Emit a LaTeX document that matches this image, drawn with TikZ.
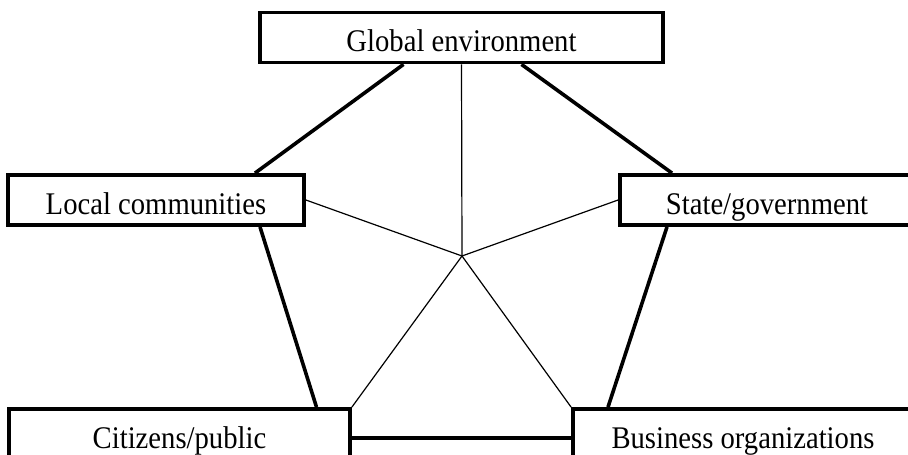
\documentclass[tikz,border=0pt]{standalone}
\usepackage{fontspec}
\setmainfont{Liberation Serif}[FakeStretch=0.91]

\begin{document}
\begin{tikzpicture}[x=1pt,y=-1pt,
  actor/.style={draw,line width=3.8pt,inner sep=0pt,text height=39pt,text depth=11pt,
    font=\fontsize{31.5}{36}\selectfont},
  tie/.style={line width=3.6pt},
  spoke/.style={line width=1.2pt}]
\useasboundingbox (0,0) rectangle (908,455);
\node[actor,minimum width=403pt,minimum height=49pt] (global) at (461.5,37.5) {Global environment}; %top
\node[actor,minimum width=296pt] (local) at (156,200) {Local communities}; %left
\node[actor,minimum width=294pt] (state) at (767,200) {State/government}; %right
\node[actor,minimum width=341pt] (citizens) at (179.5,434) {Citizens/public}; %bottom left
\node[actor,minimum width=340pt] (business) at (743,434) {Business organizations}; %bottom right
\coordinate (hub) at (462,256); %centre
\draw[tie] ([xshift=-58pt]global.south) -- ([xshift=99pt]local.north); %outer ring
\draw[tie] ([xshift=60pt]global.south) -- ([xshift=-95pt]state.north);
\draw[tie] ([xshift=104pt]local.south) -- ([xshift=137pt]citizens.north);
\draw[tie] ([xshift=-100pt]state.south) -- ([xshift=-135pt]business.north);
\draw[tie] ([yshift=-4pt]citizens.east) -- ([yshift=-4pt]business.west);
\draw[spoke] (hub) -- (global.south); %spokes
\draw[spoke] (hub) -- (local.east);
\draw[spoke] (hub) -- (state.west);
\draw[spoke] (hub) -- (citizens.north east);
\draw[spoke] (hub) -- (business.north west);
\end{tikzpicture}
\end{document}
